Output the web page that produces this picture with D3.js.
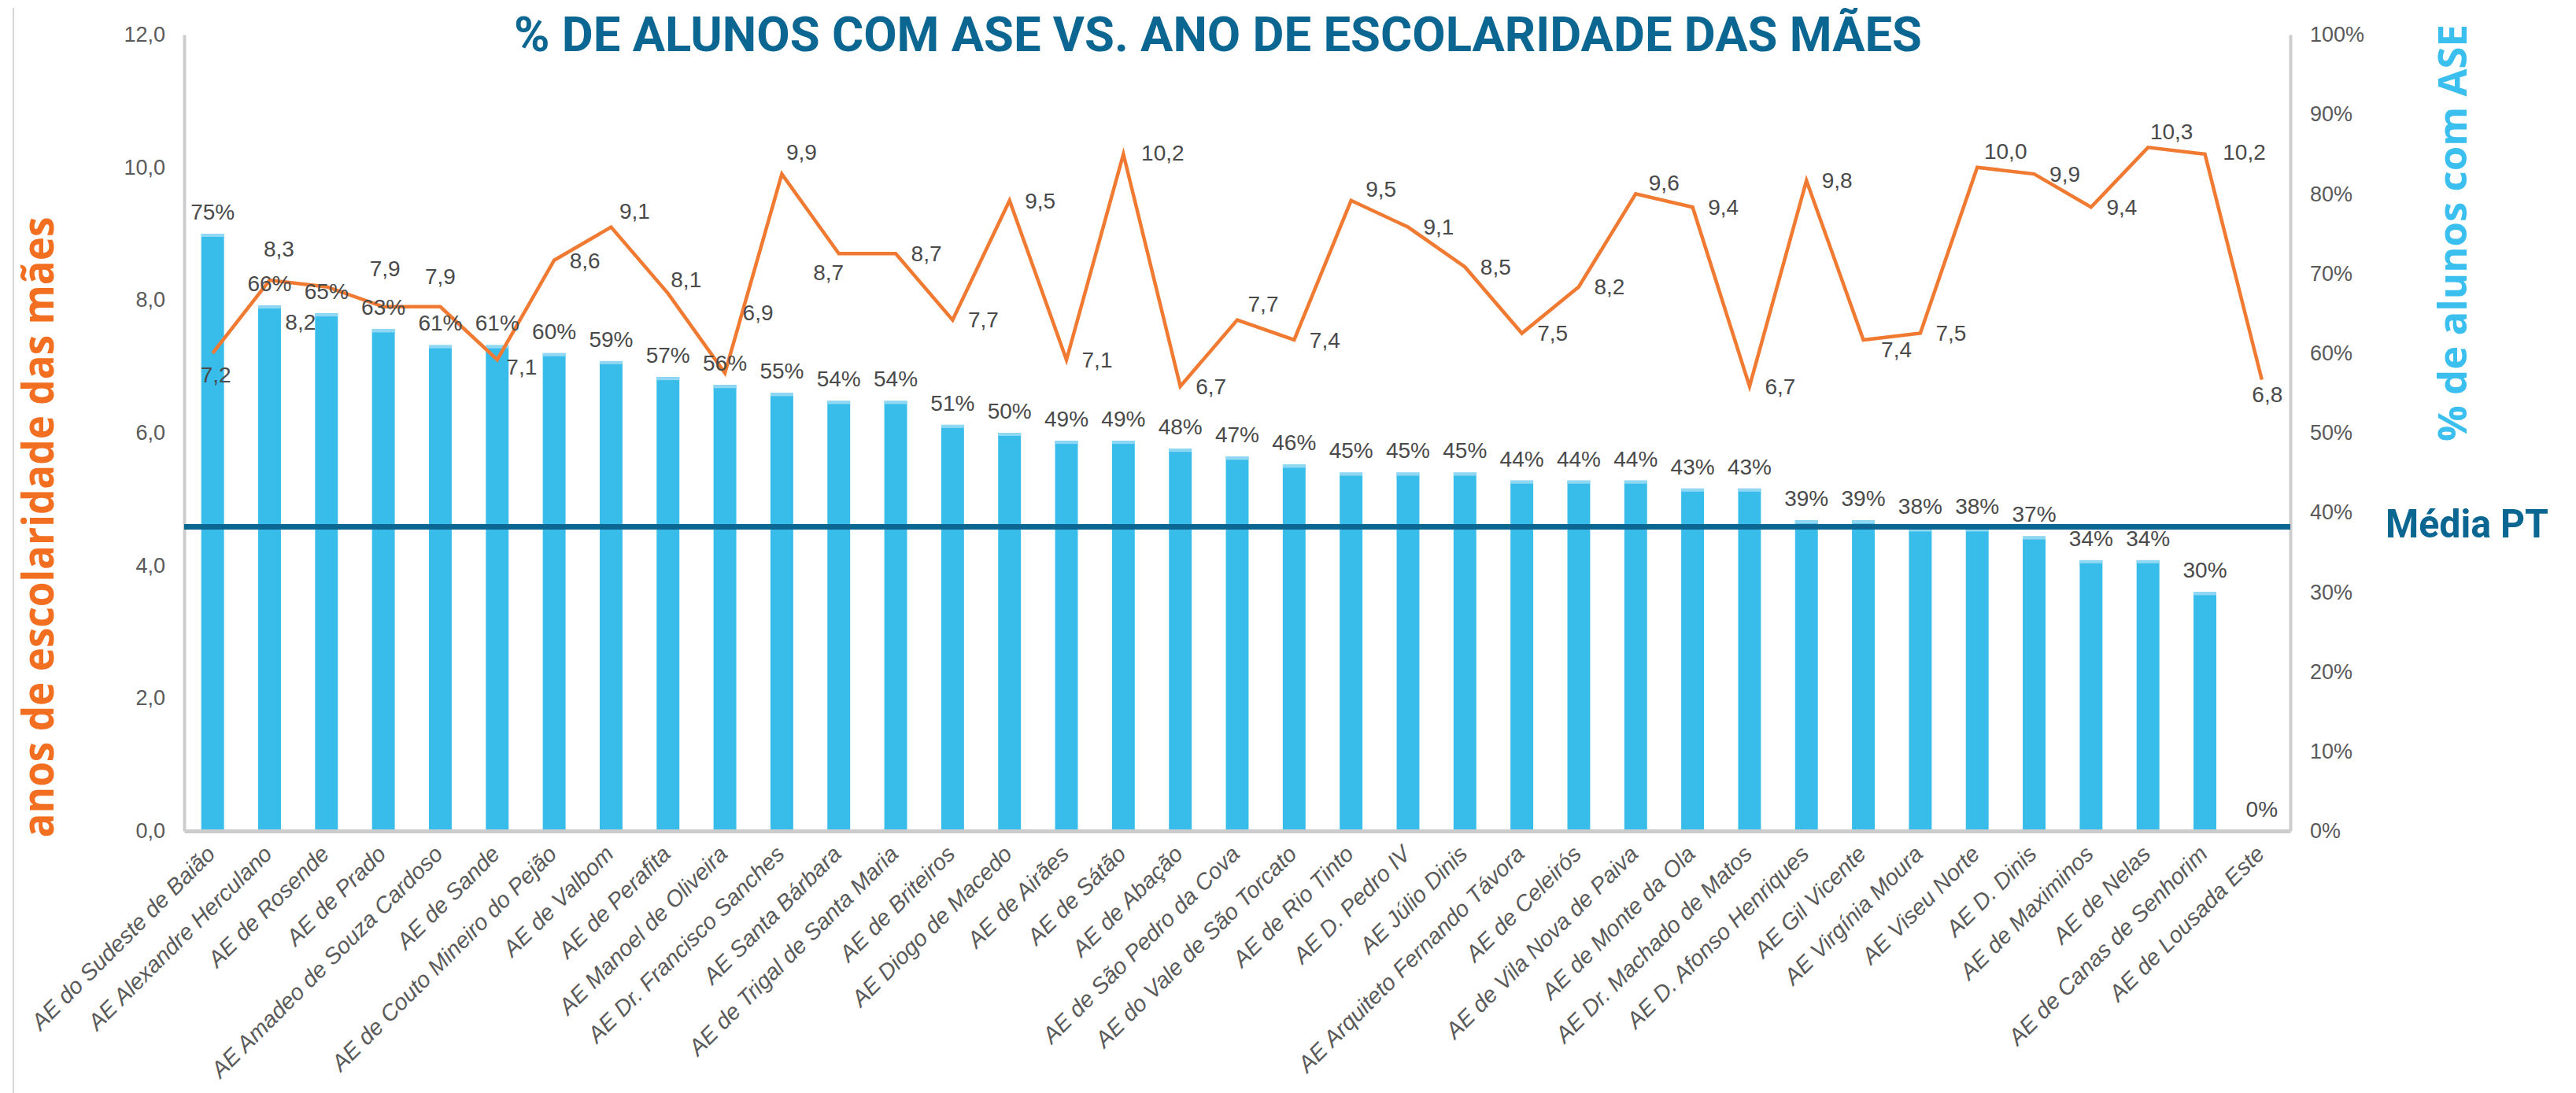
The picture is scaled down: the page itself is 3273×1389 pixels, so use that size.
<!DOCTYPE html>
<html>
<head>
<meta charset="utf-8">
<script src="https://cdn.jsdelivr.net/npm/d3@7"></script>
<style>
  html, body { margin: 0; padding: 0; background: #ffffff; }
  svg { display: block; }
</style>
</head>
<body>
<script>
// ---------------- DATA ----------------
const categories = [
  "AE do Sudeste de Baião", "AE Alexandre Herculano", "AE de Rosende", "AE de Prado",
  "AE Amadeo de Souza Cardoso", "AE de Sande", "AE de Couto Mineiro do Pejão", "AE de Valbom",
  "AE de Perafita", "AE Manoel de Oliveira", "AE Dr. Francisco Sanches", "AE Santa Bárbara",
  "AE de Trigal de Santa Maria", "AE de Briteiros", "AE Diogo de Macedo", "AE de Airães",
  "AE de Sátão", "AE de Abação", "AE de São Pedro da Cova", "AE do Vale de São Torcato",
  "AE de Rio Tinto", "AE D. Pedro IV", "AE Júlio Dinis", "AE Arquiteto Fernando Távora",
  "AE de Celeirós", "AE de Vila Nova de Paiva", "AE de Monte da Ola", "AE Dr. Machado de Matos",
  "AE D. Afonso Henriques", "AE Gil Vicente", "AE Virgínia Moura", "AE Viseu Norte",
  "AE D. Dinis", "AE de Maximinos", "AE de Nelas", "AE de Canas de Senhorim", "AE de Lousada Este"
];
// % de alunos com ASE (right axis, bars)
const aseShare = [
  0.75, 0.66, 0.65, 0.63, 0.61, 0.61, 0.60, 0.59, 0.57, 0.56, 0.55, 0.54, 0.54,
  0.51, 0.50, 0.49, 0.49, 0.48, 0.47, 0.46, 0.45, 0.45, 0.45, 0.44, 0.44, 0.44,
  0.43, 0.43, 0.39, 0.39, 0.38, 0.38, 0.37, 0.34, 0.34, 0.30, 0.00
];
// anos de escolaridade das mães (left axis, line)
const motherYears = [
  7.2, 8.3, 8.2, 7.9, 7.9, 7.1, 8.6, 9.1, 8.1, 6.9, 9.9, 8.7, 8.7,
  7.7, 9.5, 7.1, 10.2, 6.7, 7.7, 7.4, 9.5, 9.1, 8.5, 7.5, 8.2, 9.6,
  9.4, 6.7, 9.8, 7.4, 7.5, 10.0, 9.9, 9.4, 10.3, 10.2, 6.8
];
const mediaPT = 0.382;
const leftTicks = [0, 2, 4, 6, 8, 10, 12];
const rightTicks = [0, 0.1, 0.2, 0.3, 0.4, 0.5, 0.6, 0.7, 0.8, 0.9, 1.0];

const titleText = "% DE ALUNOS COM ASE VS. ANO DE ESCOLARIDADE DAS MÃES";
const leftTitle = "anos de escolaridade das mães";
const rightTitle = "% de alunos com ASE";
const mediaLabel = "Média PT";

// ---------------- LAYOUT ----------------
const W = 3273, H = 1389;
const L = 234, R = 2910, T = 44, B = 1056;
// per-label nudges of the line value labels (label centre relative to point), default: right of point
const lineLabelNudge = {
  0: [4, 27], 1: [12, -40], 2: [-33, 45], 3: [2, -49], 4: [0, -39], 5: [31, 9],
  7: [30, -20], 8: [23, -18], 9: [42, -77], 10: [25, -28], 11: [-13, 24],
  16: [50, -2], 18: [33, -20], 20: [38, -15], 25: [36, -14], 29: [42, 12],
  31: [36, -20], 34: [30, -20], 35: [50, -3], 36: [7, 19]
};
const defaultNudge = [39, 0];

const svg = d3.select("body").append("svg").attr("width", W).attr("height", H);
svg.append("rect").attr("width", W).attr("height", H).attr("fill", "#ffffff");

const x = d3.scaleBand().domain(categories).range([L, R]).paddingInner(0.6).paddingOuter(0.3);
const yL = d3.scaleLinear().domain([0, 12]).range([B, T]);
const yR = d3.scaleLinear().domain([0, 1]).range([B, T]);
const cx = d => x(d) + x.bandwidth() / 2;

const numFont = "'Liberation Sans', Arial, sans-serif";
const condFont = "'Liberation Sans Narrow', 'Arial Narrow', 'Roboto', sans-serif";
const roundFont = "'Open Sans', 'DejaVu Sans', sans-serif";

// thin frame line at far left
svg.append("line").attr("x1", 17).attr("x2", 17).attr("y1", 10).attr("y2", H)
  .attr("stroke", "#d6d6d6").attr("stroke-width", 2);

// ---------------- BARS ----------------
const barData = categories.map((c, i) => ({ c, v: aseShare[i], m: motherYears[i], i }));
const bars = svg.append("g");
bars.selectAll("rect.bar").data(barData).join("rect").attr("class", "bar")
  .attr("x", d => x(d.c)).attr("width", x.bandwidth())
  .attr("y", d => yR(d.v)).attr("height", d => B - yR(d.v))
  .attr("fill", "#38bcea");
bars.selectAll("rect.cap").data(barData.filter(d => d.v > 0)).join("rect").attr("class", "cap")
  .attr("x", d => x(d.c)).attr("width", x.bandwidth())
  .attr("y", d => yR(d.v)).attr("height", 4)
  .attr("fill", "#8fd7f3");

// ---------------- AXES ----------------
const gL = svg.append("g").attr("transform", `translate(${L},0)`)
  .call(d3.axisLeft(yL).tickValues(leftTicks).tickSize(0).tickPadding(24)
    .tickFormat(d => d.toFixed(1).replace(".", ",")));
gL.select(".domain").attr("stroke", "#cdcdcd").attr("stroke-width", 4);
gL.selectAll("text").attr("font-family", numFont).attr("font-size", 27).attr("fill", "#5a5a5a");

const gR = svg.append("g").attr("transform", `translate(${R},0)`)
  .call(d3.axisRight(yR).tickValues(rightTicks).tickSize(0).tickPadding(25)
    .tickFormat(d3.format(".0%")));
gR.select(".domain").attr("stroke", "#cdcdcd").attr("stroke-width", 4);
gR.selectAll("text").attr("font-family", numFont).attr("font-size", 27).attr("fill", "#5a5a5a");

const gB = svg.append("g").attr("transform", `translate(0,${B})`)
  .call(d3.axisBottom(x).tickSize(0));
gB.select(".domain").attr("stroke", "#cccccc").attr("stroke-width", 5);
gB.selectAll("text")
  .attr("y", 0).attr("dy", 0)
  .attr("transform", "translate(5,31) rotate(-45)")
  .attr("text-anchor", "end")
  .attr("font-family", numFont).attr("font-style", "italic")
  .attr("font-size", 29).attr("fill", "#5a5a5a");

// ---------------- MÉDIA PT LINE ----------------
svg.append("line").attr("x1", L).attr("x2", R)
  .attr("y1", yR(mediaPT)).attr("y2", yR(mediaPT))
  .attr("stroke", "#0b6792").attr("stroke-width", 7);
svg.append("text").attr("x", 3031).attr("y", yR(mediaPT) + 14)
  .attr("font-family", condFont).attr("font-weight", "bold").attr("font-size", 50)
  .attr("textLength", 207).attr("lengthAdjust", "spacingAndGlyphs")
  .attr("fill", "#0b6792").text(mediaLabel);

// ---------------- LINE ----------------
const line = d3.line().x(d => cx(d.c)).y(d => yL(d.m));
svg.append("path").datum(barData).attr("d", line)
  .attr("fill", "none").attr("stroke", "#f07a32").attr("stroke-width", 4.5)
  .attr("stroke-linejoin", "miter");

// ---------------- LABELS ----------------
svg.append("g").selectAll("text").data(barData).join("text")
  .attr("x", d => cx(d.c)).attr("y", d => yR(d.v) - 28).attr("dy", "0.35em")
  .attr("text-anchor", "middle")
  .attr("font-family", numFont).attr("font-size", 28).attr("fill", "#4a4a4a")
  .text(d => Math.round(d.v * 100) + "%");

svg.append("g").selectAll("text").data(barData).join("text")
  .attr("x", d => cx(d.c) + (lineLabelNudge[d.i] || defaultNudge)[0])
  .attr("y", d => yL(d.m) + (lineLabelNudge[d.i] || defaultNudge)[1]).attr("dy", "0.35em")
  .attr("text-anchor", "middle")
  .attr("font-family", numFont).attr("font-size", 28).attr("fill", "#4a4a4a")
  .text(d => d.m.toFixed(1).replace(".", ","));

// ---------------- TITLES ----------------
svg.append("text").attr("x", 653).attr("y", 65)
  .attr("font-family", condFont).attr("font-weight", "bold").attr("font-size", 62)
  .attr("textLength", 1789).attr("lengthAdjust", "spacingAndGlyphs")
  .attr("fill", "#0b6792").text(titleText);

svg.append("text").attr("transform", "translate(68,670) rotate(-90)")
  .attr("text-anchor", "middle")
  .attr("font-family", roundFont).attr("font-weight", "bold").attr("font-size", 56)
  .attr("textLength", 789).attr("lengthAdjust", "spacingAndGlyphs")
  .attr("fill", "#f26f21").text(leftTitle);

svg.append("text").attr("transform", "translate(3134,296) rotate(-90)")
  .attr("text-anchor", "middle")
  .attr("font-family", roundFont).attr("font-weight", "bold").attr("font-size", 51)
  .attr("textLength", 530).attr("lengthAdjust", "spacingAndGlyphs")
  .attr("fill", "#3bbfee").text(rightTitle);
</script>
</body>
</html>
